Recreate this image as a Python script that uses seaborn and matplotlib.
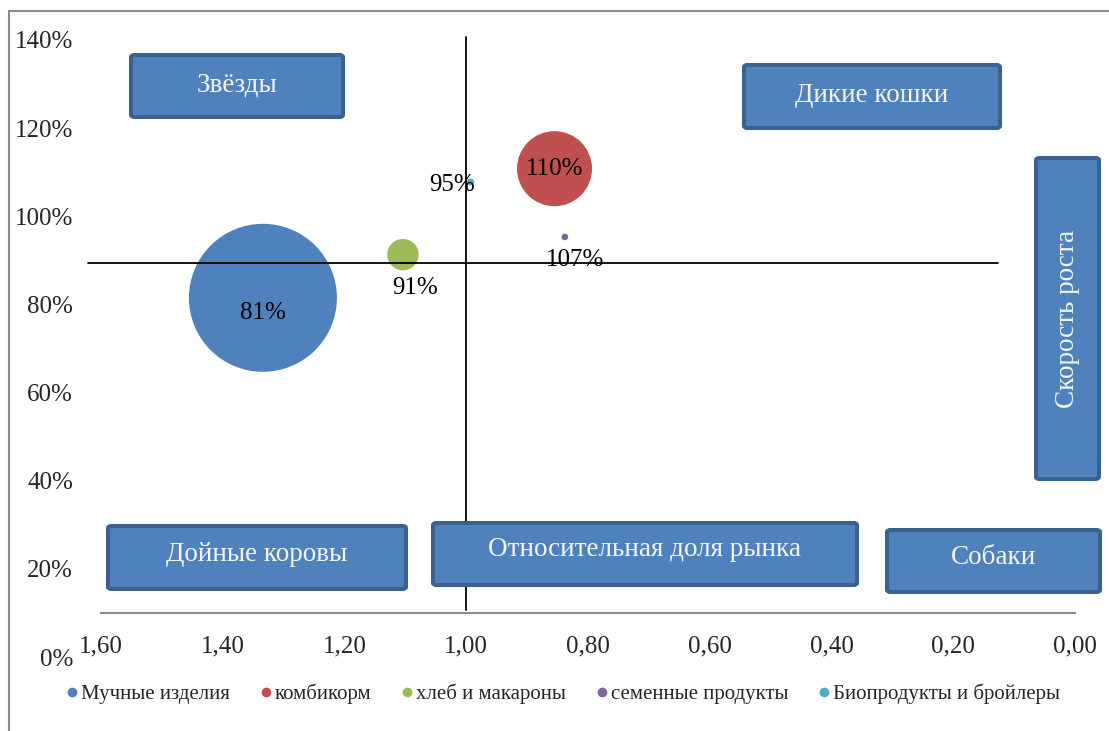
import numpy as np
import pandas as pd
import matplotlib
matplotlib.use("Agg")
import matplotlib.pyplot as plt
import seaborn as sns
from matplotlib.patches import FancyBboxPatch
from matplotlib.lines import Line2D

# Data
products = ["Мучные изделия", "комбикорм", "хлеб и макароны", "семенные продукты", "Биопродукты и бройлеры"]
relative_share = [1.334, 0.855, 1.104, 0.838, 0.993]
growth_rate = [0.815, 1.108, 0.913, 0.953, 1.078]
volume = [100.0, 25.7, 4.5, 0.2, 0.22]
point_labels = ["81%", "110%", "91%", "107%", "95%"]
colors = ["#4F81BD", "#C0504D", "#9BBB59", "#8064A2", "#4BACC6"]

x_ticks = [1.6, 1.4, 1.2, 1.0, 0.8, 0.6, 0.4, 0.2, 0.0]
y_ticks = [0.0, 0.2, 0.4, 0.6, 0.8, 1.0, 1.2, 1.4]

df = pd.DataFrame({"product": products, "share": relative_share,
                   "growth": growth_rate, "volume": volume})

sns.set_style("white")
plt.rcParams["font.family"] = ["Liberation Serif", "DejaVu Serif"]

W, H = 1109, 731
fig = plt.figure(figsize=(W / 100, H / 100), dpi=100)

# axes placed in pixel terms
left, right, top, bottom = 101, 1075, 40, 657
ax = fig.add_axes([left / W, 1 - bottom / H, (right - left) / W, (bottom - top) / H])
ax.set_xlim(1.6, 0.0)
ax.set_ylim(0.0, 1.4)

# bubbles
scale = (2 * 74 * 0.72) ** 2 / 100.0
sns.scatterplot(data=df, x="share", y="growth", hue="product", palette=colors,
                s=df["volume"] * scale, edgecolor="none", alpha=1, legend=False,
                ax=ax, zorder=3)

# data labels
offsets = [(0, -15), (0, 0), (12, -33), (10, -23), (-18, -3)]
for xv, yv, lab, (dx, dy) in zip(relative_share, growth_rate, point_labels, offsets):
    ax.annotate(lab, (xv, yv), xytext=(dx, dy), textcoords="offset pixels",
                ha="center", va="center", fontsize=18, color="black", zorder=5)

# quadrant lines
ax.plot([1.0, 1.0], [0.107, 1.407], color="black", lw=1.3, clip_on=False, zorder=4)
ax.plot([1.622, 0.127], [0.894, 0.894], color="black", lw=1.3, clip_on=False, zorder=4)

# axes styling
for s in ["top", "right", "left"]:
    ax.spines[s].set_visible(False)
ax.spines["bottom"].set_position(("data", 0.1))
ax.spines["bottom"].set_color("#8C8C8C")
ax.spines["bottom"].set_linewidth(1.5)
ax.set_xticks(x_ticks)
ax.set_xticklabels([f"{v:.2f}".replace(".", ",") for v in x_ticks], fontsize=18)
ax.set_yticks(y_ticks)
ax.set_yticklabels([f"{int(round(v * 100))}%" for v in y_ticks], fontsize=18)
ax.tick_params(axis="x", length=0, pad=16)
ax.tick_params(axis="y", length=0, pad=20)
ax.set_xlabel("")
ax.set_ylabel("")
ax.patch.set_alpha(0)


def px_box(x0, y0, x1, y1, text, rotation=0, text_dy=0):
    lw = 4
    bx0, by0 = x0 + lw / 2, y0 + lw / 2
    bx1, by1 = x1 - lw / 2, y1 - lw / 2
    patch = FancyBboxPatch((bx0 / W, 1 - by1 / H), (bx1 - bx0) / W, (by1 - by0) / H,
                           boxstyle="round,pad=0,rounding_size=0.003",
                           transform=fig.transFigure, facecolor="#4F81BD",
                           edgecolor="#3B618E", linewidth=lw * 0.72, zorder=6)
    fig.patches.append(patch)
    fig.text((x0 + x1) / 2 / W, 1 - ((y0 + y1) / 2 + text_dy) / H, text,
             ha="center", va="center", color="#F4F4F4", fontsize=19.5,
             rotation=rotation, zorder=7)


px_box(129, 53, 345, 119, "Звёзды", text_dy=-1)
px_box(742, 63, 1002, 130, "Дикие кошки", text_dy=-1)
px_box(1034, 156, 1101, 481, "Скорость роста", rotation=90)
px_box(106, 524, 408, 591, "Дойные коровы", text_dy=-3)
px_box(431, 521, 859, 587, "Относительная доля рынка", text_dy=-5)
px_box(885, 528, 1102, 594, "Собаки", text_dy=-3)

# chart frame (left and top edges visible)
fig.add_artist(Line2D([9 / W, 9 / W], [0, 1 - 11 / H], color="#8C8C8C", lw=1.5,
                      transform=fig.transFigure))
fig.add_artist(Line2D([9 / W, 1], [1 - 11 / H, 1 - 11 / H], color="#8C8C8C", lw=1.5,
                      transform=fig.transFigure))

# legend
handles = [Line2D([0], [0], marker="o", color="none", markerfacecolor=c,
                  markeredgecolor="none", markersize=7) for c in colors]
fig.legend(handles, products, loc="center", ncol=5, frameon=False, fontsize=15,
           bbox_to_anchor=(562 / W, 1 - 694 / H), handletextpad=0.05,
           columnspacing=1.3, handlelength=0.8)

fig.savefig("out.png", dpi=100)
